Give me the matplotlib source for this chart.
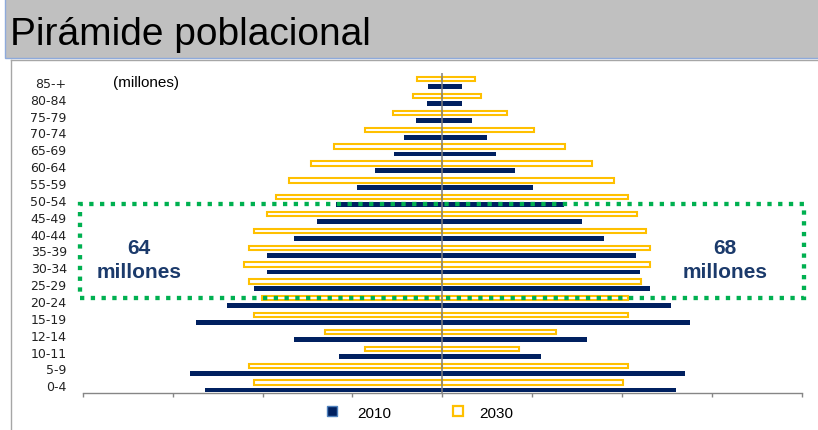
import matplotlib
matplotlib.use("Agg")
import matplotlib.pyplot as plt
from matplotlib.patches import Rectangle
from matplotlib.lines import Line2D
import numpy as np

# ---- data (millions), listed from oldest (top) to youngest (bottom) ----
age_groups = ['85-+', '80-84', '75-79', '70-74', '65-69', '60-64', '55-59',
              '50-54', '45-49', '40-44', '35-39', '30-34', '25-29', '20-24',
              '15-19', '12-14', '10-11', '5-9', '0-4']
left_2030 = [0.57, 0.65, 1.09, 1.71, 2.41, 2.93, 3.40, 3.71, 3.91, 4.20,
             4.30, 4.41, 4.30, 4.02, 4.20, 2.62, 1.71, 4.30, 4.20]
left_2010 = [0.32, 0.34, 0.58, 0.86, 1.08, 1.50, 1.89, 2.36, 2.79, 3.29,
             3.89, 3.89, 4.20, 4.79, 5.49, 3.29, 2.29, 5.61, 5.29]
right_2030 = [0.73, 0.87, 1.44, 2.03, 2.72, 3.32, 3.82, 4.13, 4.33, 4.52,
              4.63, 4.63, 4.41, 4.13, 4.13, 2.53, 1.71, 4.13, 4.01]
right_2010 = [0.43, 0.43, 0.65, 1.00, 1.19, 1.61, 2.01, 2.70, 3.10, 3.60,
              4.31, 4.39, 4.61, 5.08, 5.51, 3.21, 2.20, 5.40, 5.20]
series_labels = ['2010', '2030']
title = 'Pirámide poblacional'
unit_note = '(millones)'
left_note = ['64', 'millones']
right_note = ['68', 'millones']

NAVY = '#002060'
GOLD = '#FFC000'
GREEN = '#00B050'
NOTE = '#1B3A6B'

W, H = 818, 430
fig = plt.figure(figsize=(W / 100, H / 100), dpi=100)
fig.patch.set_facecolor('white')

# title band
fig.add_artist(Rectangle((5 / W, (H - 57.5) / H), 1.0, 0.2, transform=fig.transFigure,
                         facecolor='#C0C0C0', edgecolor='#8EAADB', lw=1.0))
fig.text(10 / W, (H - 45) / H, title, fontsize=28, color='black',
         family=['Liberation Sans Narrow', 'Liberation Sans', 'DejaVu Sans'],
         ha='left', va='baseline')
# chart frame
fig.add_artist(Line2D([11 / W, 1.0], [(H - 60) / H] * 2, transform=fig.transFigure,
                      color='#A6A6A6', lw=1.0))
fig.add_artist(Line2D([11 / W] * 2, [0, (H - 60) / H], transform=fig.transFigure,
                      color='#A6A6A6', lw=1.0))

ax = fig.add_axes([82.7 / W, (H - 393) / H, 719.3 / W, 320 / H])
n = len(age_groups)
y = np.arange(n)[::-1]  # top row is oldest
off = 0.22

ax.barh(y + off, -np.array(left_2030), height=0.26, color='white', edgecolor=GOLD, lw=1.5, zorder=2)
ax.barh(y + off, right_2030, height=0.26, color='white', edgecolor=GOLD, lw=1.5, zorder=2)
ax.barh(y - off, -np.array(left_2010), height=0.29, color=NAVY, edgecolor='none', zorder=2)
ax.barh(y - off, right_2010, height=0.29, color=NAVY, edgecolor='none', zorder=2)

ax.axvline(0, color='#7F7F7F', lw=1.1, zorder=3)

ax.set_xlim(-8, 8)
ax.set_ylim(-0.40, n - 1 + 0.59)
ax.set_xticks(np.arange(-8, 9, 2))
ax.set_xticklabels([])
ax.tick_params(axis='x', direction='out', length=3, width=1, color='#868686')
ax.set_yticks(y)
ax.set_yticklabels(age_groups, fontsize=9, family='DejaVu Sans', color='#222222')
ax.tick_params(axis='y', length=0, pad=11.5)
for s in ['left', 'right', 'top']:
    ax.spines[s].set_visible(False)
ax.spines['bottom'].set_color('#868686')
ax.spines['bottom'].set_linewidth(1.0)
ax.set_facecolor('none')

# green dotted box (rows 20-24 .. 50-54)
row = {a: y[i] for i, a in enumerate(age_groups)}
top_y = row['50-54'] - 0.16
bot_y = row['20-24'] + 0.25
ax.add_patch(Rectangle((-8.07, bot_y), 16.11, top_y - bot_y, fill=False, edgecolor=GREEN,
                       lw=3.1, linestyle=(0, (1, 1.5)), clip_on=False, zorder=5))

sans = ['Liberation Sans', 'DejaVu Sans']
ax.text(-7.33, row['85-+'], unit_note, fontsize=11, family=sans, ha='left', va='center')
ax.text(-6.74, 8.17, left_note[0], fontsize=15, fontweight='bold', color=NOTE, family=sans, ha='center', va='center')
ax.text(-6.74, 6.76, left_note[1], fontsize=15, fontweight='bold', color=NOTE, family=sans, ha='center', va='center')
ax.text(6.29, 8.17, right_note[0], fontsize=15, fontweight='bold', color=NOTE, family=sans, ha='center', va='center')
ax.text(6.29, 6.76, right_note[1], fontsize=15, fontweight='bold', color=NOTE, family=sans, ha='center', va='center')

# legend
fig.add_artist(Line2D([332 / W], [(H - 411.3) / H], transform=fig.transFigure, marker='s',
                      markersize=7.5, markerfacecolor=NAVY, markeredgecolor='#4F81BD',
                      markeredgewidth=1.0, linestyle='none'))
fig.text(357 / W, (H - 414) / H, series_labels[0], fontsize=11, family=sans, ha='left', va='center')
fig.add_artist(Line2D([457.8 / W], [(H - 411.2) / H], transform=fig.transFigure, marker='s',
                      markersize=7.5, markerfacecolor='white', markeredgecolor=GOLD,
                      markeredgewidth=1.6, linestyle='none'))
fig.text(479 / W, (H - 414) / H, series_labels[1], fontsize=11, family=sans, ha='left', va='center')

fig.savefig('out.png', dpi=100)
